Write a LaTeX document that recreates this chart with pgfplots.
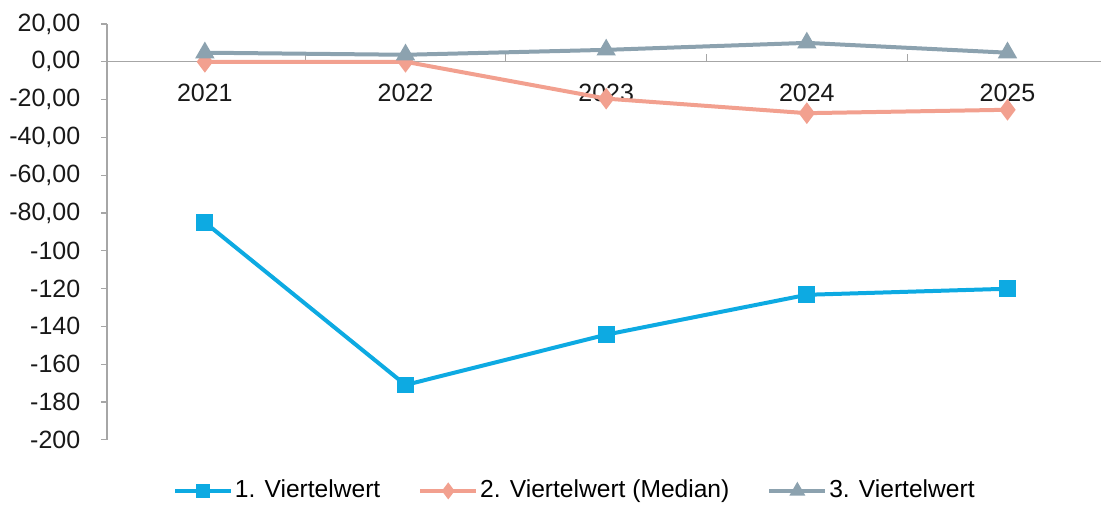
\documentclass[border=0pt]{standalone}
\usepackage{pgfplots}
\pgfplotsset{compat=1.18}
\usepackage{fontspec}
\setmainfont{Liberation Sans}
\definecolor{cblue}{HTML}{0DAAE2}
\definecolor{corange}{HTML}{F2A08F}
\definecolor{cgray}{HTML}{8CA2AF}
\definecolor{axgray}{HTML}{A6A6A6}
\begin{document}
\fontsize{12.5}{15}\selectfont
\begin{tikzpicture}
\begin{axis}[
  name=ax,
  scale only axis,
  width=497.5pt, height=208pt,
  xmin=-0.488, xmax=4.468,
  ymin=-200, ymax=20,
  axis x line=middle,
  axis y line=left,
  axis line style={draw=axgray, line width=0.6pt, -},
  ytick={-200,-180,-160,-140,-120,-100,-80,-60,-40,-20,0,20},
  yticklabels={-200,-180,-160,-140,-120,-100,{-80,00},{-60,00},{-40,00},{-20,00},{0,00},{20,00}},
  ytick style={draw=axgray, line width=0.6pt},
  y tick label style={font=\fontsize{12.5}{15}\selectfont, text=black!90, xshift=-6pt},
  tick align=outside,
  major tick length=3pt,
  xtick={0,1,2,3,4},
  xticklabels={2021,2022,2023,2024,2025},
  x tick label style={font=\fontsize{12.5}{15}\selectfont, text=black!90, yshift=-4pt},
  xtick style={draw=none},
  extra x ticks={0.5,1.5,2.5,3.5},
  extra x tick labels={},
  extra x tick style={xtick style={draw=axgray, line width=0.6pt, yshift=2pt}, tick align=center, major tick length=4pt},
  clip=false,
  legend style={draw=none, fill=none, at={(axis description cs:0.4715,0)}, anchor=north, yshift=-16pt,
    font=\fontsize{12.3}{15}\selectfont, legend columns=3,
    /tikz/every even column/.append style={column sep=17pt},
    /tikz/every odd column/.append style={column sep=-1pt}},
  legend cell align=left,
  legend image code/.code={
    \draw[#1, mark repeat=2, mark phase=2, mark size=2.6pt] plot coordinates {(0pt,0pt) (14pt,0pt) (28pt,0pt)};
  },
]
\addplot[cblue, line width=2pt, mark=square*, mark size=3.2pt, mark options={solid}]
  coordinates {(0,-85) (1,-171) (2,-144.4) (3,-123.3) (4,-120.1)};
\addlegendentry{1. Viertelwert}
\addplot[corange, line width=2pt, mark=diamond*, mark size=3.8pt, mark options={solid}]
  coordinates {(0,0) (1,0) (2,-19.5) (3,-27.2) (4,-25.4)};
\addlegendentry{2. Viertelwert (Median)}
\addplot[cgray, line width=2pt, mark=triangle*, mark size=3.6pt, mark options={solid}]
  coordinates {(0,4.8) (1,3.7) (2,6.3) (3,10) (4,4.8)};
\addlegendentry{3. Viertelwert}
\end{axis}
\path[use as bounding box] ([xshift=-53.5pt,yshift=12pt]ax.north west) rectangle ([yshift=-31.5pt]ax.south east);
\end{tikzpicture}
\end{document}
